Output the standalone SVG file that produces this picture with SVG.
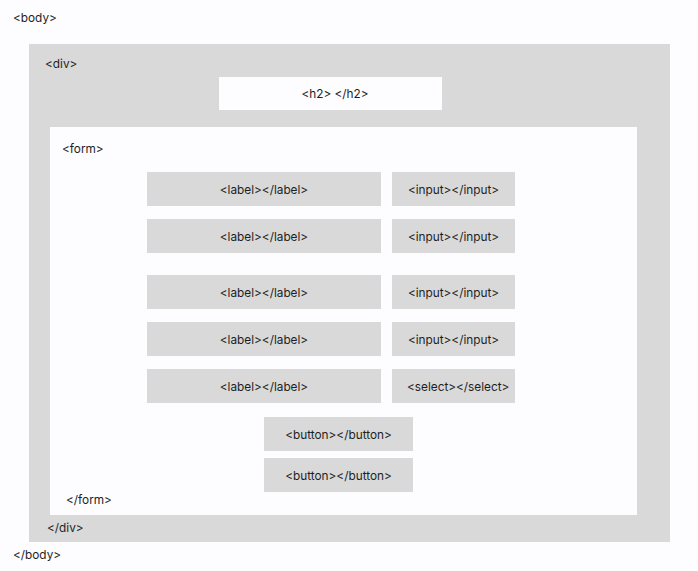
<svg xmlns="http://www.w3.org/2000/svg" width="698" height="571" viewBox="0 0 698 571">
<style>
.bg{fill:#FDFCFE}
.g{fill:#D9D9D9}
.w{fill:#FDFCFE}
text{font-family:Inter,"Liberation Sans",sans-serif;font-size:11.8px;fill:#1E1E1E}
.c{text-anchor:middle}
</style>
<rect class="bg" x="0" y="0" width="698" height="571"/>
<g id="body">
<text x="13" y="22">&lt;body&gt;</text>
<text x="13" y="559">&lt;/body&gt;</text>
</g>
<g id="div">
<rect class="g" x="29" y="44" width="641" height="498"/>
<text x="45" y="68">&lt;div&gt;</text>
<text x="47" y="532">&lt;/div&gt;</text>
</g>
<g id="h2">
<rect class="w" x="219" y="77" width="223" height="33"/>
<text class="c" x="335" y="98">&lt;h2&gt; &lt;/h2&gt;</text>
</g>
<g id="form">
<rect class="w" x="50" y="127" width="587" height="388"/>
<text x="62" y="153">&lt;form&gt;</text>
<text x="66" y="504">&lt;/form&gt;</text>
</g>
<g id="label1"><rect class="g" x="147" y="172" width="234" height="34"/><text class="c" x="264" y="194">&lt;label&gt;&lt;/label&gt;</text></g>
<g id="input1"><rect class="g" x="392" y="172" width="123" height="34"/><text class="c" x="453.5" y="194">&lt;input&gt;&lt;/input&gt;</text></g>
<g id="label2"><rect class="g" x="147" y="219" width="234" height="34"/><text class="c" x="264" y="241">&lt;label&gt;&lt;/label&gt;</text></g>
<g id="input2"><rect class="g" x="392" y="219" width="123" height="34"/><text class="c" x="453.5" y="241">&lt;input&gt;&lt;/input&gt;</text></g>
<g id="label3"><rect class="g" x="147" y="275" width="234" height="34"/><text class="c" x="264" y="297">&lt;label&gt;&lt;/label&gt;</text></g>
<g id="input3"><rect class="g" x="392" y="275" width="123" height="34"/><text class="c" x="453.5" y="297">&lt;input&gt;&lt;/input&gt;</text></g>
<g id="label4"><rect class="g" x="147" y="322" width="234" height="34"/><text class="c" x="264" y="344">&lt;label&gt;&lt;/label&gt;</text></g>
<g id="input4"><rect class="g" x="392" y="322" width="123" height="34"/><text class="c" x="453.5" y="344">&lt;input&gt;&lt;/input&gt;</text></g>
<g id="label5"><rect class="g" x="147" y="369" width="234" height="34"/><text class="c" x="264" y="391">&lt;label&gt;&lt;/label&gt;</text></g>
<g id="select"><rect class="g" x="392" y="369" width="123" height="34"/><text x="407" y="391">&lt;select&gt;&lt;/select&gt;</text></g>
<g id="button1"><rect class="g" x="264" y="417" width="149" height="34"/><text class="c" x="338.5" y="439">&lt;button&gt;&lt;/button&gt;</text></g>
<g id="button2"><rect class="g" x="264" y="458" width="149" height="34"/><text class="c" x="338.5" y="480">&lt;button&gt;&lt;/button&gt;</text></g>
<g id="connectors"/>
</svg>
